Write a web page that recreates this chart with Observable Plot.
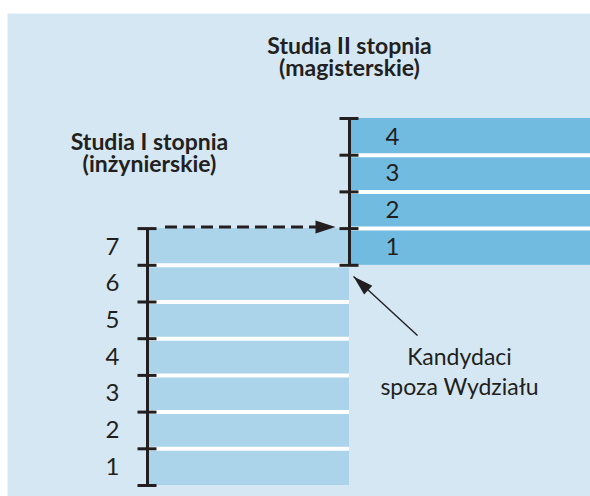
<!DOCTYPE html>
<html>
<head>
<meta charset="utf-8">
<script src="https://cdn.jsdelivr.net/npm/d3@7"></script>
<script src="https://cdn.jsdelivr.net/npm/@observablehq/plot@0.6"></script>
<style>
  html, body { margin: 0; padding: 0; background: #ffffff; }
  svg { display: block; }
</style>
</head>
<body>
<div id="chart"></div>
<script>
// ---- data ----
const leftLevels = [1, 2, 3, 4, 5, 6, 7];          // Studia I stopnia (semestry)
const rightLevels = [1, 2, 3, 4];                  // Studia II stopnia (semestry)
const leftTitle = ["Studia I stopnia", "(inżynierskie)"];
const rightTitle = ["Studia II stopnia", "(magisterskie)"];
const noteText = ["Kandydaci", "spoza Wydziału"];

// ---- layout (pixels per unit, origin) ----
const KX = 202, KY = 36.7, OX = 147, OY = 485;
const ux = px => (px - OX) / KX;
const uy = py => (OY - py) / KY;
const off = leftLevels.length - 1;                 // right column starts at left's last level
const xMax = ux(590);
const tk = 9.5 / KX;
const dark = "#231f20";
const font = "Lato, 'Open Sans', sans-serif";

// custom elongated arrowhead symbol, tip at origin pointing +x
const head = (len, half) => ({
  draw(ctx) { ctx.moveTo(0, 0); ctx.lineTo(-len, -half); ctx.lineTo(-len, half); ctx.closePath(); }
});

const leftTicks = d3.range(0, leftLevels.length + 1);
const rightTicks = d3.range(off, off + rightLevels.length + 1);

// annotation anchors
const dashStart = ux(165), dashTip = ux(335);
const solidFrom = [ux(417), uy(335)], solidTip = [ux(353), uy(276)];
const solidAngle = Math.atan2(-(solidTip[1] - solidFrom[1]) * KY, (solidTip[0] - solidFrom[0]) * KX) * 180 / Math.PI;

const chart = Plot.plot({
  width: 590,
  height: 496,
  marginTop: 13,
  marginLeft: 7,
  marginRight: 0,
  marginBottom: 0,
  style: { background: "#ffffff", fontFamily: font },
  x: { domain: [ux(7), xMax], axis: null },
  y: { domain: [uy(496), uy(13)], axis: null },
  marks: [
    Plot.frame({ fill: "#d4e7f3", stroke: "none" }),
    // bars
    Plot.rect(leftLevels, { x1: 0, x2: 1, y1: d => d - 1, y2: d => d, fill: "#abd3ea" }),
    Plot.rect(rightLevels, { x1: 1, x2: xMax, y1: d => d + off - 1, y2: d => d + off, fill: "#72bbe0" }),
    // white separators
    Plot.ruleY(leftLevels.slice(0, -1), { y: d => d, x1: 0, x2: 1, stroke: "#ffffff", strokeWidth: 4 }),
    Plot.ruleY(rightLevels.slice(0, -1), { y: d => d + off, x1: 1, x2: xMax, stroke: "#ffffff", strokeWidth: 4 }),
    // axes
    Plot.ruleX([0], { y1: 0, y2: leftLevels.length, stroke: dark, strokeWidth: 3 }),
    Plot.ruleX([1], { y1: off, y2: off + rightLevels.length, stroke: dark, strokeWidth: 3 }),
    Plot.ruleY(leftTicks, { y: d => d, x1: -tk, x2: tk, stroke: dark, strokeWidth: 3 }),
    Plot.ruleY(rightTicks, { y: d => d, x1: 1 - tk, x2: 1 + tk, stroke: dark, strokeWidth: 3 }),
    // level labels
    Plot.text(leftLevels, { x: ux(112), y: d => d - 0.5, text: d => String(d), fontSize: 24, fill: dark, fontFamily: font }),
    Plot.text(rightLevels, { x: ux(392), y: d => d + off - 0.5, text: d => String(d), fontSize: 24, fill: dark, fontFamily: font }),
    // dashed arrow: left level 7 -> right level 1
    Plot.ruleY([leftLevels.length], { y: d => d, x1: dashStart, x2: ux(318), stroke: dark, strokeWidth: 3, strokeDasharray: "12,6", dy: -1.5 }),
    Plot.dot([leftLevels.length], { x: dashTip, y: d => d, dy: -1.5, symbol: head(20, 6.5), r: 5, fill: dark, stroke: "none" }),
    // solid arrow: candidates from outside the faculty
    Plot.link([0], { x1: solidFrom[0], y1: solidFrom[1], x2: solidTip[0], y2: solidTip[1], stroke: dark, strokeWidth: 1.4 }),
    Plot.dot([0], { x: solidTip[0], y: solidTip[1], symbol: head(20, 6), r: 5, rotate: solidAngle, fill: dark, stroke: "none" }),
    // titles (multi-line)
    Plot.text([rightTitle.join("\n")], { x: 1, y: uy(57), text: d => d, lineHeight: 0.96, fontSize: 23, fontWeight: "bold", fill: dark, fontFamily: font }),
    Plot.text([leftTitle.join("\n")], { x: ux(149), y: uy(153), text: d => d, lineHeight: 0.96, fontSize: 23, fontWeight: "bold", fill: dark, fontFamily: font }),
    // note
    Plot.text([noteText.join("\n")], { x: ux(459), y: uy(370), text: d => d, lineHeight: 1.3, fontSize: 23, fill: dark, fontFamily: font })
  ]
});
document.getElementById("chart").appendChild(chart);
</script>
</body>
</html>
